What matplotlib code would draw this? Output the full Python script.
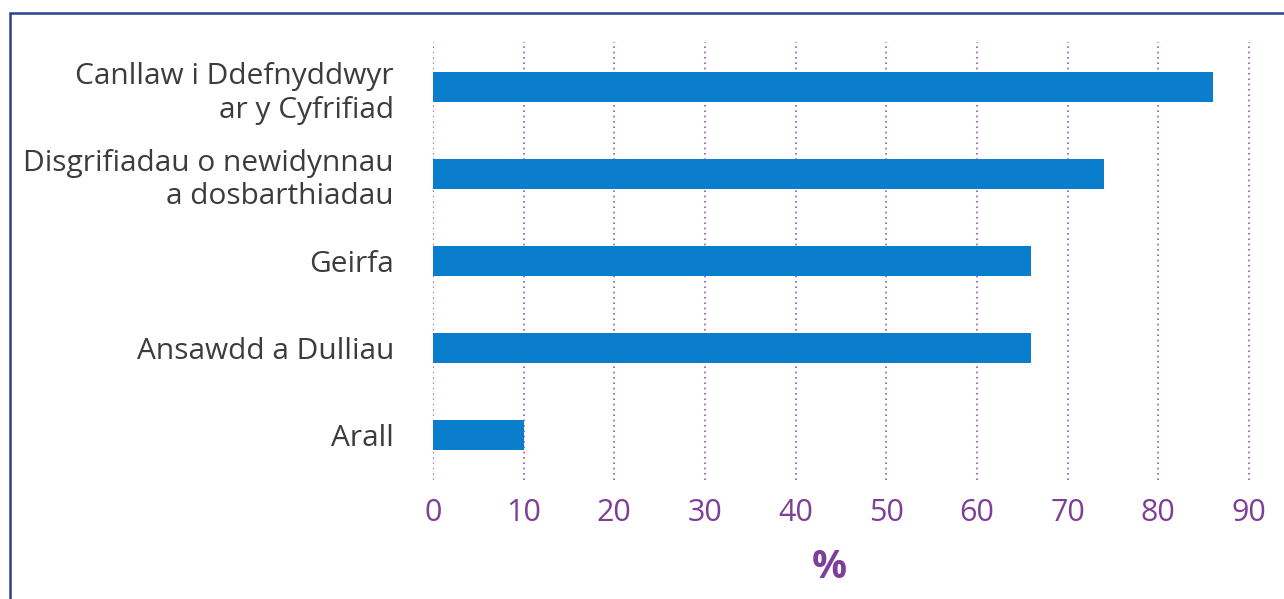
import matplotlib.pyplot as plt
from matplotlib.patches import Rectangle

categories = ["Canllaw i Ddefnyddwyr\nar y Cyfrifiad",
              "Disgrifiadau o newidynnau\na dosbarthiadau",
              "Geirfa",
              "Ansawdd a Dulliau",
              "Arall"]
values = [86, 74, 66, 66, 10]
xticks = [0, 10, 20, 30, 40, 50, 60, 70, 80, 90]

purple = "#7d3f98"
blue = "#0a7ecc"

plt.rcParams['font.family'] = ['Open Sans', 'DejaVu Sans']

fig = plt.figure(figsize=(12.84, 5.99), dpi=100)
W, H = 1284, 599
ax = fig.add_axes([433 / W, (H - 480) / H, (92 * 816 / 90) / W, 438 / H])

pos = list(range(len(categories)))
ax.barh(pos, values, height=0.34, color=blue, zorder=3)
ax.set_ylim(4.52, -0.52)
ax.set_xlim(0, 92)
ax.set_yticks(pos)
ax.set_yticklabels(categories, fontsize=21.5, color="#3c3c3c", linespacing=1.22)
ax.set_xticks(xticks)
ax.set_xticklabels([str(t) for t in xticks], fontsize=22, color=purple)
ax.tick_params(axis='both', length=0)
ax.tick_params(axis='y', pad=28)
ax.tick_params(axis='x', pad=13)
for s in ax.spines.values():
    s.set_visible(False)
ax.grid(axis='x', color="#9b59b6", linestyle=(0, (1, 2.2)), linewidth=1.2, zorder=0)
ax.set_xlabel("%", fontsize=28, color=purple, fontweight='bold')
ax.xaxis.label.set_verticalalignment('center')
ax.xaxis.set_label_coords(829 / W, (H - 568) / H, transform=fig.transFigure)

fig.patches.append(Rectangle((9.5 / W, -0.1), 2, (H - 12.5) / H + 0.1,
                             transform=fig.transFigure, fill=False,
                             edgecolor="#2d3e91", linewidth=1.8))

fig.savefig("out.png", dpi=100)
